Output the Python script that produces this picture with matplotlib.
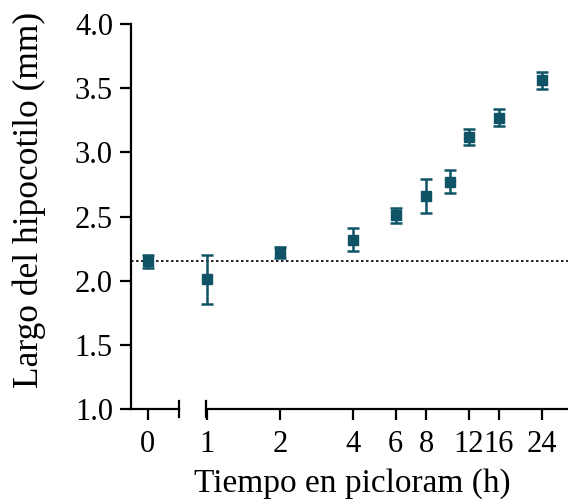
import numpy as np
import matplotlib.pyplot as plt

# data
t_zero = [0]
len_zero = [2.15]
err_zero = [0.05]

t_hours = [1, 2, 4, 6, 8, 10, 12, 16, 24]
len_mm = [2.01, 2.22, 2.32, 2.51, 2.66, 2.77, 3.12, 3.27, 3.56]
err_mm = [0.19, 0.04, 0.09, 0.06, 0.13, 0.09, 0.065, 0.065, 0.065]

xticks_right = [1, 2, 4, 6, 8, 12, 16, 24]
baseline = 2.15

color = "#0e5466"
plt.rcParams["font.family"] = ["Liberation Serif", "DejaVu Serif"]

W, H = 568, 501
fig = plt.figure(figsize=(W / 100, H / 100), dpi=100)

bottom = (H - 409) / H
height = 385 / H
axL = fig.add_axes([131 / W, bottom, 48 / W, height])
axR = fig.add_axes([206 / W, bottom, 362 / W, height], sharey=axL)

kw = dict(fmt="s", color=color, ms=7.5, elinewidth=1.8, capsize=4.5, capthick=1.8)
for ax, x, y, e in ((axL, t_zero, len_zero, err_zero), (axR, t_hours, len_mm, err_mm)):
    cont = ax.errorbar(x, y, yerr=e, **kw)
    for art in cont.get_children():
        art.set_clip_on(False)

axL.set_xlim(-0.35, 0.65)
axL.set_xticks([0])
axL.set_ylim(1.0, 4.0)
yt = np.arange(1.0, 4.01, 0.5)
axL.set_yticks(yt)
axL.set_yticklabels([f"{v:.1f}" for v in yt])

axR.set_xscale("log", base=2)
axR.set_xlim(0.99, 30.8)
axR.set_xticks(xticks_right)
axR.set_xticklabels([str(v) for v in xticks_right])
axR.minorticks_off()
axR.tick_params(axis="y", left=False, labelleft=False)

for ax in (axL, axR):
    ax.spines["top"].set_visible(False)
    ax.spines["right"].set_visible(False)
    ax.spines["bottom"].set_linewidth(1.6)
    ax.spines["left"].set_linewidth(1.6)
    ax.tick_params(direction="out", length=8, width=1.6, labelsize=22, pad=5)
    ax.tick_params(axis="x", pad=7)
    ax.patch.set_visible(False)
axR.spines["left"].set_visible(False)

# dotted reference line across both panels
axL.axhline(baseline, xmin=0, xmax=(W - 131) / 48, color="black", lw=1.2,
            ls=(0, (1.5, 1.5)), clip_on=False, zorder=0)

# axis break marks
axL.plot([1, 1], [-0.02, 0.02], transform=axL.transAxes, color="black", lw=1.6, clip_on=False)
axR.plot([0, 0], [-0.02, 0.02], transform=axR.transAxes, color="black", lw=1.6, clip_on=False)

axL.set_ylabel("Largo del hipocotilo (mm)", fontsize=25.5)
axL.yaxis.set_label_coords((46 - 131) / 48, 0.543)
fig.text(352 / W, 2 / H, "Tiempo en picloram (h)", fontsize=24, ha="center", va="bottom")

fig.savefig("out.png", dpi=100)
